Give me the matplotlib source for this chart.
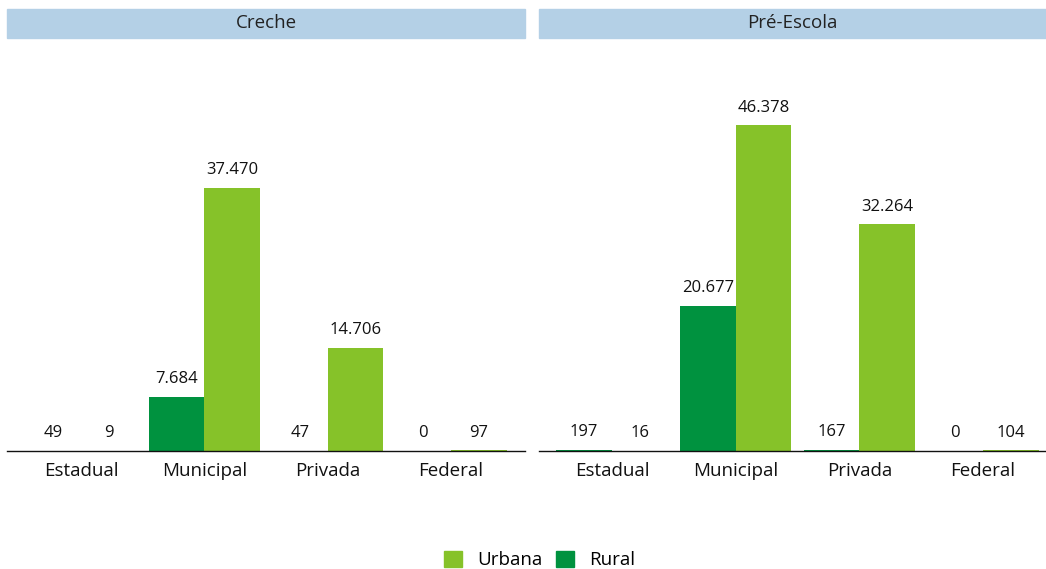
import matplotlib
matplotlib.use("Agg")
import matplotlib.pyplot as plt
from matplotlib.patches import Rectangle, Patch
import numpy as np

plt.rcParams['font.family'] = ['Open Sans', 'DejaVu Sans']

categories = ["Estadual", "Municipal", "Privada", "Federal"]
panels = ["Creche", "Pré-Escola"]
rural = {"Creche": [49, 7684, 47, 0], "Pré-Escola": [197, 20677, 167, 0]}
urbana = {"Creche": [9, 37470, 14706, 97], "Pré-Escola": [16, 46378, 32264, 104]}

c_urb = "#86C229"
c_rur = "#00923F"
c_strip = "#B4D0E6"

W, H = 1046, 569
fig = plt.figure(figsize=(W / 100, H / 100), dpi=100)

def fmt(v):
    return f"{v:,}".replace(",", ".")

panel_px = [(7, 525), (539, 1046)]
xlims = [(-0.6, 3.6), (-0.59, 3.51)]
ax_top_px, ax_bot_px = 45, 451
ymax = 57800
for name, (x0, x1), xl in zip(panels, panel_px, xlims):
    ax = fig.add_axes([x0 / W, 1 - ax_bot_px / H, (x1 - x0) / W, (ax_bot_px - ax_top_px) / H])
    x = np.arange(len(categories))
    w = 0.45
    br = ax.bar(x - w / 2, rural[name], w, color=c_rur)
    bu = ax.bar(x + w / 2, urbana[name], w, color=c_urb)
    for bars, vals in ((br, rural[name]), (bu, urbana[name])):
        for b, v in zip(bars, vals):
            ax.annotate(fmt(v), (b.get_x() + b.get_width() / 2, v), xytext=(0, 7),
                        textcoords="offset points", ha="center", va="bottom",
                        fontsize=12, color="#111111")
    ax.set_xlim(*xl)
    ax.set_ylim(0, ymax)
    ax.set_xticks(x)
    ax.set_xticklabels(categories, fontsize=13.5, color="#111111")
    ax.tick_params(axis="x", length=0, pad=8)
    ax.set_yticks([])
    for s in ("top", "left", "right"):
        ax.spines[s].set_visible(False)
    ax.spines["bottom"].set_color("#111111")
    ax.spines["bottom"].set_linewidth(1.0)
    # strip
    fig.patches.append(Rectangle((x0 / W, 1 - 38 / H), (x1 - x0) / W, 29 / H,
                                 transform=fig.transFigure, color=c_strip, zorder=0))
    fig.text((x0 + x1) / 2 / W, 1 - 23.5 / H, name, ha="center", va="center",
             fontsize=13.5, color="#222222")

handles = [Patch(color=c_urb, label="Urbana"), Patch(color=c_rur, label="Rural")]
fig.legend(handles=handles, loc="center", bbox_to_anchor=(0.516, 1 - 560 / H), ncol=2,
           frameon=False, fontsize=13.5, handlelength=0.95, handleheight=0.95,
           columnspacing=0.75, handletextpad=0.8)

fig.savefig("out.png", dpi=100)
